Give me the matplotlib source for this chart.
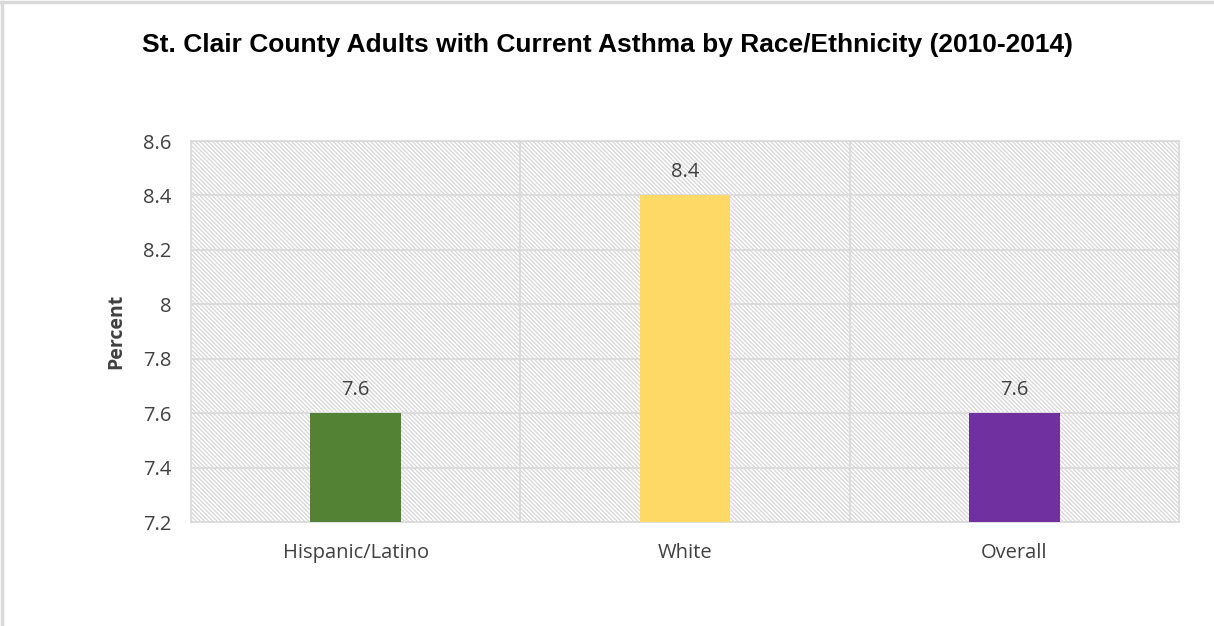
import matplotlib.pyplot as plt
from matplotlib.lines import Line2D

# Adults with current asthma, percent
groups = ["Hispanic/Latino", "White", "Overall"]
percent = [7.6, 8.4, 7.6]
bar_colors = ["#548235", "#FFD966", "#7030A0"]
yticks = [7.2, 7.4, 7.6, 7.8, 8, 8.2, 8.4, 8.6]

plt.rcParams["hatch.color"] = "#d6d6d6"
plt.rcParams["hatch.linewidth"] = 0.9

fig = plt.figure(figsize=(12.14, 6.26), dpi=100)
ax = fig.add_axes([0.1573, 0.1661, 0.8139, 0.6086])

# hatched plot background
ax.patch.set_facecolor("white")
ax.patch.set_hatch("\\" * 8)
ax.patch.set_edgecolor("#d6d6d6")

x = range(len(groups))
bars = ax.bar(x, percent, width=0.275, color=bar_colors, zorder=3)

for xi, v in zip(x, percent):
    ax.text(xi, v + 0.05, f"{v:g}", ha="center", va="bottom",
            fontsize=14.5, color="#404040", family="Open Sans", zorder=4,
            bbox=dict(facecolor="none", edgecolor="none", pad=0))

ax.set_ylim(7.2, 8.6)
ax.set_xlim(-0.5, 2.5)
ax.set_yticks(yticks)
ax.set_yticklabels([f"{t:g}" for t in yticks])
ax.set_xticks(list(x))
ax.set_xticklabels(groups)

# gridlines: horizontal at ticks, vertical between categories
for t in yticks:
    ax.axhline(t, color="#d9d9d9", linewidth=1.2, zorder=1)
for b in [0.5, 1.5]:
    ax.axvline(b, color="#d9d9d9", linewidth=1.2, zorder=1)

for s in ax.spines.values():
    s.set_color("#d9d9d9")
    s.set_linewidth(1.2)

ax.tick_params(length=0, labelsize=14.5, colors="#404040")
for lab in ax.get_xticklabels() + ax.get_yticklabels():
    lab.set_family("Open Sans")
ax.tick_params(axis="y", pad=14)
ax.tick_params(axis="x", pad=15)

ax.set_ylabel("Percent", fontsize=14, fontweight="bold", color="#404040",
              family="Open Sans", labelpad=12)

fig.text(0.5, 0.928, "St. Clair County Adults with Current Asthma by Race/Ethnicity (2010-2014)",
         ha="center", va="center", fontsize=19, fontweight="bold",
         family="Liberation Sans", color="black")

# chart area border (left and top)
fig.add_artist(Line2D([0.0015, 0.0015], [0, 0.997], color="#d9d9d9", linewidth=2.5,
                      transform=fig.transFigure))
fig.add_artist(Line2D([0, 1], [0.997, 0.997], color="#d9d9d9", linewidth=2.5,
                      transform=fig.transFigure))

fig.savefig("out.png", dpi=100)
